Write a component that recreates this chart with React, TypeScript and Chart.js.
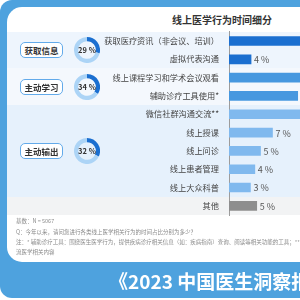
import React, { useEffect, useRef } from "react";
import Chart from "chart.js/auto";

const categories = [
  "获取医疗资讯（非会议、培训）",
  "虚拟代表沟通",
  "线上课程学习和学术会议观看",
  "辅助诊疗工具使用*",
  "微信社群沟通交流**",
  "线上授课",
  "线上问诊",
  "线上患者管理",
  "线上大众科普",
  "其他",
];
const values = [25, 3.5, 23, 10.9, 13, 6.9, 5.0, 4.1, 3.4, 4.4];
const valueLabels = ["25 %", "4 %", "23 %", "11 %", "13 %", "7 %", "5 %", "4 %", "3 %", "5 %"];
const barColors = [
  "#1b6fd0", "#1b6fd0",
  "#4798df", "#4798df",
  "#80b9ee", "#80b9ee", "#80b9ee", "#80b9ee", "#80b9ee",
  "#8e8e8e",
];

const groupNames = ["获取信息", "主动学习", "主动输出"];
const groupShares = [29, 34, 32];
const groupCenters = [50.2, 86.8, 150.8];

const title = "线上医学行为时间细分";
const footLines = [
  "基数：N = 5067",
  "Q：今年以来，请问您进行各类线上医学相关行为的时间占比分别为多少？",
  "注：* 辅助诊疗工具：围绕医生医学行为，提供疾病诊疗相关信息（如：疾病指南）查询、阅读等相关功能的工具；** 微信社群沟通交流：在微信群中交",
  "流医学相关内容",
];
const bannerText = "《2023 中国医生洞察报告》";

const FONT = "'Noto Sans CJK SC', 'Noto Sans', sans-serif";

function Donut({ value, cy }: { value: number; cy: number }) {
  const ref = useRef<HTMLCanvasElement>(null);
  useEffect(() => {
    const chart = new Chart(ref.current!, {
      type: "doughnut",
      data: {
        datasets: [
          {
            data: [value, 100 - value],
            backgroundColor: ["#1b6fd0", "#acd4f6"],
            borderWidth: 0,
          },
        ],
      },
      options: {
        responsive: false,
        animation: false,
        devicePixelRatio: 1,
        cutout: "68%",
        layout: { padding: 0 },
        events: [],
        plugins: { legend: { display: false }, tooltip: { enabled: false } },
      },
    });
    return () => chart.destroy();
  }, [value]);
  return (
    <>
      <canvas
        ref={ref}
        width={26}
        height={26}
        style={{ position: "absolute", left: 74, top: cy - 13, width: 26, height: 26 }}
      />
      <div
        style={{
          position: "absolute",
          left: 67,
          width: 40,
          top: cy - 5,
          height: 10,
          lineHeight: "10px",
          textAlign: "center",
          fontSize: 7.5,
          fontWeight: 700,
          color: "#333",
          fontFamily: FONT,
        }}
      >
        {value} %
      </div>
    </>
  );
}

export default function App() {
  const ref = useRef<HTMLCanvasElement>(null);
  useEffect(() => {
    const valuePlugin = {
      id: "valueLabels",
      afterDatasetsDraw(chart: any) {
        const ctx = chart.ctx;
        const meta = chart.getDatasetMeta(0);
        ctx.save();
        ctx.font = `9px ${FONT}`;
        ctx.fillStyle = "#555";
        ctx.textAlign = "left";
        ctx.textBaseline = "middle";
        meta.data.forEach((bar: any, i: number) => {
          ctx.fillText(valueLabels[i], bar.x + 3, bar.y + 0.5);
        });
        ctx.restore();
      },
    };
    const chart = new Chart(ref.current!, {
      type: "bar",
      data: {
        labels: categories,
        datasets: [
          {
            data: values,
            backgroundColor: barColors,
            borderWidth: 0,
            barThickness: 9,
          },
        ],
      },
      options: {
        indexAxis: "y",
        responsive: false,
        animation: false,
        devicePixelRatio: 1,
        events: [],
        layout: { padding: { top: 31.85, bottom: 85, left: 0, right: 0 } },
        plugins: { legend: { display: false }, tooltip: { enabled: false } },
        scales: {
          x: { display: false, min: 0, max: 30.3 },
          y: {
            afterFit: (scale: any) => {
              scale.width = 229;
            },
            grid: { display: false, drawTicks: false },
            border: { display: true, color: "#9c9c9c", width: 1 },
            ticks: {
              autoSkip: false,
              padding: 10,
              color: "#444",
              font: { size: 8.2, family: FONT },
            },
          },
        },
      },
      plugins: [valuePlugin],
    });
    return () => chart.destroy();
  }, []);

  const bands = [
    { top: 31.85, bottom: 68.45, color: "#eef5fd" },
    { top: 68.45, bottom: 105.05, color: "#f4f8fd" },
    { top: 105.05, bottom: 196.55, color: "#e6f1fc" },
    { top: 196.55, bottom: 215, color: "#f2f3f4" },
  ];

  return (
    <div
      style={{
        position: "fixed",
        left: 0,
        top: 0,
        width: 300,
        height: 300,
        overflow: "hidden",
        background: "#ffffff",
        fontFamily: FONT,
      }}
    >
      <div
        style={{
          position: "absolute",
          left: 0,
          top: 0,
          width: 340,
          height: 298,
          borderRadius: 12,
          background: "#4ea2de",
        }}
      />
      <div
        style={{
          position: "absolute",
          left: 7,
          top: 7,
          width: 340,
          height: 255,
          borderRadius: 15,
          background: "#ffffff",
        }}
      />
      {bands.map((b, i) => (
        <div
          key={i}
          style={{
            position: "absolute",
            left: 7,
            width: 300,
            top: b.top,
            height: b.bottom - b.top,
            background: b.color,
          }}
        />
      ))}
      <div
        style={{
          position: "absolute",
          left: 122,
          width: 200,
          top: 13,
          height: 14,
          lineHeight: "14px",
          textAlign: "center",
          fontSize: 10,
          fontWeight: 700,
          color: "#333",
        }}
      >
        {title}
      </div>
      <canvas
        ref={ref}
        width={420}
        height={300}
        style={{ position: "absolute", left: 0, top: 0, width: 420, height: 300 }}
      />
      {groupNames.map((g, i) => (
        <div
          key={g}
          style={{
            position: "absolute",
            left: 20,
            top: groupCenters[i] - 8,
            width: 41,
            height: 14,
            lineHeight: "14px",
            border: "1px solid #62aaea",
            borderRadius: 5,
            background: "#fff",
            textAlign: "center",
            fontSize: 8.5,
            fontWeight: 700,
            color: "#333",
          }}
        >
          {g}
        </div>
      ))}
      {groupShares.map((v, i) => (
        <Donut key={i} value={v} cy={groupCenters[i]} />
      ))}
      {footLines.map((t, i) => (
        <div
          key={i}
          style={{
            position: "absolute",
            left: 16,
            top: [221, 232, 242, 252][i] - 4,
            height: 8,
            lineHeight: "8px",
            fontSize: 5.5,
            color: "#8a8a8a",
            whiteSpace: "nowrap",
          }}
        >
          {t}
        </div>
      ))}
      <div
        style={{
          position: "absolute",
          left: 109,
          top: 268,
          height: 26,
          lineHeight: "26px",
          fontSize: 19,
          fontWeight: 700,
          color: "#ffffff",
          whiteSpace: "nowrap",
        }}
      >
        {bannerText}
      </div>
    </div>
  );
}
